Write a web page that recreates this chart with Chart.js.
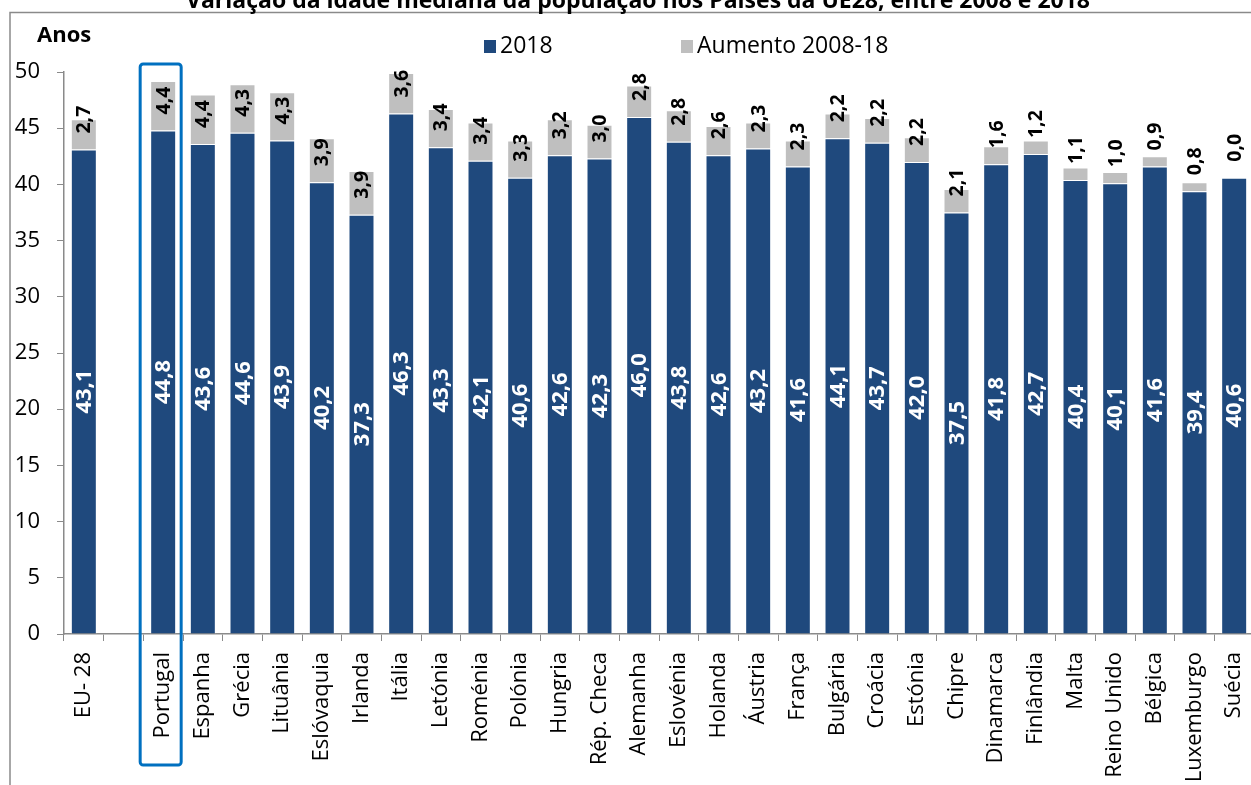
<!DOCTYPE html>
<html lang="pt">
<head>
<meta charset="utf-8">
<title>Idade mediana da população na UE28</title>
<script src="https://cdn.jsdelivr.net/npm/chart.js@4.4.1/dist/chart.umd.min.js"></script>
<style>
    html, body { margin: 0; padding: 0; background: #fff; overflow: hidden; }
    #wrap { position: relative; width: 1280px; height: 800px; }
</style>
</head>
<body>
<div id="wrap"><canvas id="idadeChart" width="1280" height="800"></canvas></div>
<script>
const paises = [
    'EU- 28', '', 'Portugal', 'Espanha', 'Grécia', 'Lituânia', 'Eslóvaquia', 'Irlanda',
    'Itália', 'Letónia', 'Roménia', 'Polónia', 'Hungria', 'Rép. Checa', 'Alemanha',
    'Eslovénia', 'Holanda', 'Áustria', 'França', 'Bulgária', 'Croácia', 'Estónia',
    'Chipre', 'Dinamarca', 'Finlândia', 'Malta', 'Reino Unido', 'Bélgica', 'Luxemburgo', 'Suécia'
];
const idade2018 = [
    43.1, null, 44.8, 43.6, 44.6, 43.9, 40.2, 37.3,
    46.3, 43.3, 42.1, 40.6, 42.6, 42.3, 46.0,
    43.8, 42.6, 43.2, 41.6, 44.1, 43.7, 42.0,
    37.5, 41.8, 42.7, 40.4, 40.1, 41.6, 39.4, 40.6
];
const aumento = [
    2.7, null, 4.4, 4.4, 4.3, 4.3, 3.9, 3.9,
    3.6, 3.4, 3.4, 3.3, 3.2, 3.0, 2.8,
    2.8, 2.6, 2.3, 2.3, 2.2, 2.2, 2.2,
    2.1, 1.6, 1.2, 1.1, 1.0, 0.9, 0.8, 0.0
];
const serieNomes = ['2018', 'Aumento 2008-18'];
const titulo = 'Variação da idade mediana da população nos Países da UE28, entre 2008 e 2018';
const eixoY = 'Anos';
const destaque = 'Portugal';

const AZUL = '#1F497D';
const CINZA = '#BFBFBF';
const FONTE = "'Open Sans', sans-serif";

Chart.defaults.font.family = FONTE;
Chart.defaults.color = '#000';

const fmt = v => v.toFixed(1).replace('.', ',');

// moldura, título, legenda e caixa de destaque
const extras = {
    id: 'extras',
    beforeDraw(chart) {
        const ctx = chart.ctx;
        ctx.save();
        ctx.fillStyle = '#fff';
        ctx.fillRect(0, 0, chart.width, chart.height);
        ctx.strokeStyle = '#8a8a8a';
        ctx.lineWidth = 1.5;
        ctx.strokeRect(10, 12.5, chart.width + 50, chart.height + 50);

        ctx.fillStyle = '#000';
        ctx.font = 'bold 23px ' + FONTE;
        ctx.textAlign = 'center';
        ctx.textBaseline = 'alphabetic';
        ctx.fillText(titulo, 638, 8);

        ctx.font = 'bold 22px ' + FONTE;
        ctx.textAlign = 'left';
        ctx.fillText(eixoY, 37, 42);

        // legenda
        ctx.font = '23px ' + FONTE;
        ctx.textBaseline = 'middle';
        const leg = [[484, AZUL], [681, CINZA]];
        leg.forEach(([x, cor], i) => {
            ctx.fillStyle = cor;
            ctx.fillRect(x, 40, 12, 13);
            ctx.fillStyle = '#000';
            ctx.fillText(serieNomes[i], x + 16, 46);
        });
        ctx.restore();
    },
    afterDraw(chart) {
        const ctx = chart.ctx;
        const idx = paises.indexOf(destaque);
        const cx = chart.scales.x.getPixelForValue(idx);
        ctx.save();
        ctx.strokeStyle = '#0070C0';
        ctx.lineWidth = 3;
        ctx.beginPath();
        ctx.roundRect(cx - 23, 64, 41, 701, 3);
        ctx.stroke();
        ctx.restore();
    }
};

// valores escritos na vertical dentro e por cima das barras
const rotulos = {
    id: 'rotulos',
    afterDatasetsDraw(chart) {
        const ctx = chart.ctx;
        const barras = chart.getDatasetMeta(0).data;
        barras.forEach((bar, i) => {
            if (idade2018[i] == null) return;

            ctx.save();
            ctx.translate(bar.x, (bar.y + bar.base) / 2);
            ctx.rotate(-Math.PI / 2);
            ctx.font = 'bold 22px ' + FONTE;
            ctx.fillStyle = '#fff';
            ctx.textAlign = 'center';
            ctx.textBaseline = 'middle';
            ctx.fillText(fmt(idade2018[i]), 0, 1);
            ctx.restore();

            ctx.save();
            ctx.translate(bar.x, bar.y - 16);
            ctx.rotate(-Math.PI / 2);
            ctx.font = 'bold 19.5px ' + FONTE;
            ctx.fillStyle = '#000';
            ctx.textAlign = 'left';
            ctx.textBaseline = 'middle';
            ctx.fillText(fmt(aumento[i]), 0, 1);
            ctx.restore();
        });
    }
};

new Chart(document.getElementById('idadeChart'), {
    type: 'bar',
    data: {
        labels: paises,
        datasets: [
            {
                label: serieNomes[0],
                data: idade2018,
                backgroundColor: AZUL,
                borderColor: 'rgba(255,255,255,0.5)',
                borderWidth: 1
            },
            {
                label: serieNomes[1],
                data: aumento,
                backgroundColor: CINZA,
                borderColor: 'rgba(255,255,255,0.5)',
                borderWidth: 1
            }
        ]
    },
    options: {
        responsive: false,
        animation: false,
        datasets: {
            bar: { categoryPercentage: 1, barPercentage: 0.655 }
        },
        layout: { padding: { top: 72, left: 0, right: 26, bottom: 0 } },
        plugins: {
            legend: { display: false },
            title: { display: false },
            tooltip: { enabled: false }
        },
        scales: {
            x: {
                stacked: true,
                afterFit(scale) { scale.height = 166; },
                grid: {
                    offset: true,
                    drawOnChartArea: false,
                    drawTicks: true,
                    tickLength: 7,
                    color: '#8a8a8a'
                },
                border: { color: '#8a8a8a', width: 1.5 },
                ticks: {
                    autoSkip: false,
                    minRotation: 90,
                    maxRotation: 90,
                    padding: 11,
                    font: { size: 22 },
                    color: '#000'
                }
            },
            y: {
                stacked: true,
                min: 0,
                max: 50,
                afterFit(scale) { scale.width = 64; },
                grid: {
                    drawOnChartArea: false,
                    drawTicks: true,
                    tickLength: 7,
                    color: '#8a8a8a'
                },
                border: { color: '#8a8a8a', width: 1.5 },
                ticks: {
                    stepSize: 5,
                    padding: 17,
                    font: { size: 22 },
                    color: '#000'
                }
            }
        }
    },
    plugins: [extras, rotulos]
});
</script>
</body>
</html>
